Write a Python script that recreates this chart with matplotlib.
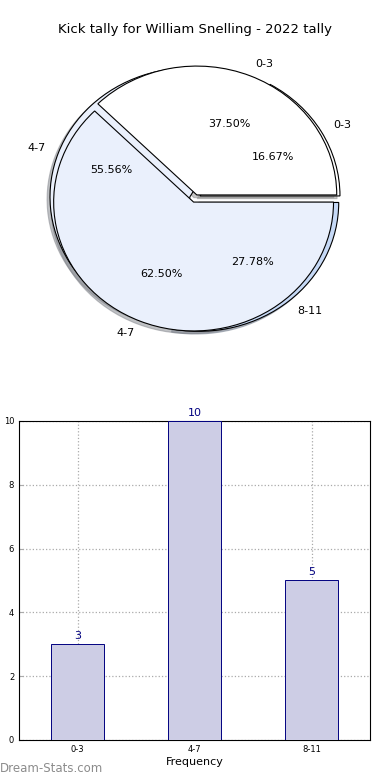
import matplotlib
matplotlib.use("Agg")
import matplotlib.pyplot as plt

title = "Kick tally for William Snelling - 2022 tally"

# outer pie (all groups)
pie_labels = ["0-3", "4-7", "8-11"]
pie_values = [3, 10, 5]
pie_colors = ["#ffffff", "#eaf0fc", "#c6d9f6"]

# inner pie (first two groups)
pie2_labels = ["0-3", "4-7"]
pie2_values = [3, 5]
pie2_colors = ["#ffffff", "#eaf0fc"]

# bar chart
bar_labels = ["0-3", "4-7", "8-11"]
bar_values = [3, 10, 5]

fig = plt.figure(figsize=(3.9, 7.8), dpi=100)

# --- pie part ---
ax1 = fig.add_axes([0.052, 0.539, 0.897, 0.413])
wp = {"edgecolor": "black", "linewidth": 0.8}
shadow = {"ox": -0.015, "oy": -0.015, "shade": 0.45}
ax1.pie(pie_values, labels=pie_labels, colors=pie_colors, autopct="%1.2f%%",
        explode=(0.04, 0.04, 0.04), shadow=shadow, wedgeprops=wp,
        textprops={"fontsize": 8})
ax1.pie(pie2_values, labels=pie2_labels, colors=pie2_colors, autopct="%1.2f%%",
        explode=(0.03, 0.03), shadow=shadow, wedgeprops=wp,
        textprops={"fontsize": 8})
ax1.set_aspect("auto")
ax1.set_xlim(-1.25, 1.25)
ax1.set_ylim(-1.25, 1.25)
fig.text(0.5, 0.962, title, ha="center", va="center", fontsize=9.5)

# --- bar part ---
ax2 = fig.add_axes([0.049, 0.0513, 0.9, 0.409])
x = range(len(bar_values))
bars = ax2.bar(x, bar_values, width=0.45, color="#cdcde5", edgecolor="#000080",
               linewidth=0.7, zorder=3)
for xi, v in zip(x, bar_values):
    ax2.text(xi, v + 0.1, str(v), ha="center", va="bottom", fontsize=8,
             color="#000080")
ax2.set_xlim(-0.5, 2.5)
ax2.set_ylim(0, 10)
ax2.set_xticks(list(x))
ax2.set_xticklabels(bar_labels)
ax2.set_yticks([0, 2, 4, 6, 8, 10])
ax2.tick_params(axis="both", labelsize=6, direction="in", length=3, color="#aaaaaa")
ax2.grid(True, linestyle=":", color="#aaaaaa", linewidth=0.9, zorder=0)
ax2.set_xlabel("Frequency", fontsize=8, labelpad=2)
ax2.set_ylabel("Kick tally", fontsize=8, labelpad=4)
ax2.yaxis.set_label_coords(-0.06, 0.5)

fig.text(0.0, 0.007, "Dream-Stats.com", fontsize=8.5, color="#8c8c8c",
         ha="left", va="bottom")

fig.savefig("out.png", dpi=100)
